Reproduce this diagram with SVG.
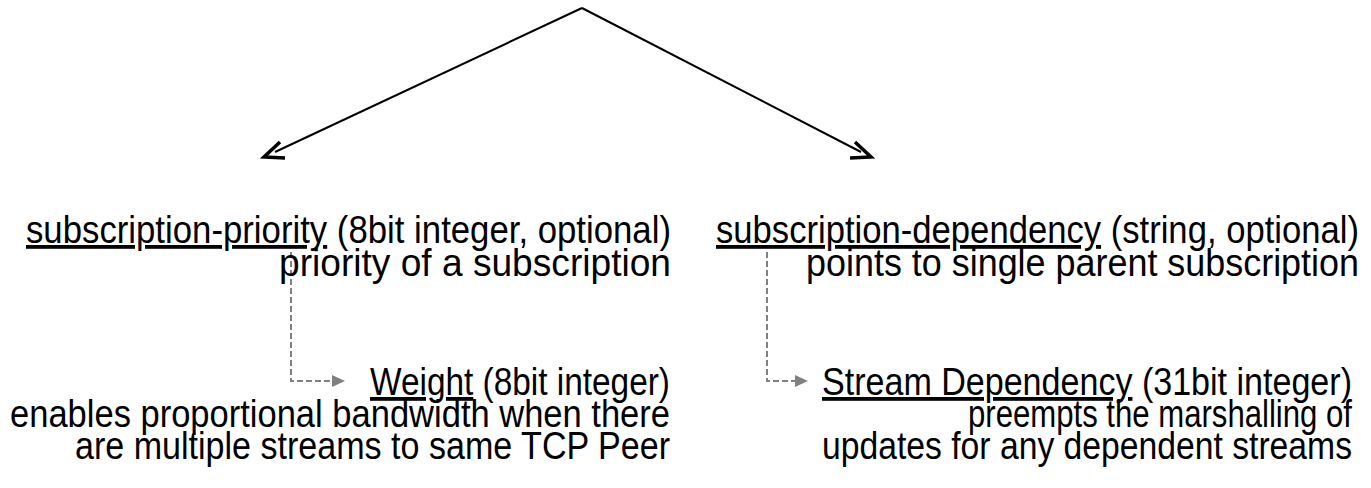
<svg xmlns="http://www.w3.org/2000/svg" width="1371" height="488" viewBox="0 0 1371 488">
<defs>
<style>
text{font-family:"Liberation Sans Narrow","Liberation Sans",Arial,sans-serif;font-size:38px;fill:#000;text-anchor:end}
.u{text-decoration:underline}
.main{fill:none;stroke:#000;stroke-width:2}
.head{fill:none;stroke:#000;stroke-width:3.5;stroke-linecap:butt;stroke-linejoin:miter}
.dash{fill:none;stroke:#808080;stroke-width:2;stroke-dasharray:6 3}
</style>
<marker id="tri" viewBox="0 0 13 12" refX="0" refY="6" markerWidth="13" markerHeight="12" markerUnits="userSpaceOnUse" orient="auto">
<path d="M0,0 L13,6 L0,12 z" fill="#808080"/>
</marker>
</defs>
<g id="connectors">
<path class="main" d="M582,8 L275,152"/>
<path class="head" d="M280,142 L264,157 L285,158"/>
<path class="main" d="M582,8 L861,152"/>
<path class="head" d="M855,142 L871,157 L850,158"/>
<path class="dash" d="M291,252 L291,381 L332,381" marker-end="url(#tri)"/>
<path class="dash" d="M767,252 L767,381 L795,381" marker-end="url(#tri)"/>
</g>
<g id="node-subscription-priority">
<text x="671" y="243" textLength="645" lengthAdjust="spacingAndGlyphs"><tspan class="u">subscription-priority</tspan> (8bit integer, optional)</text>
<text x="671" y="276" textLength="392" lengthAdjust="spacingAndGlyphs">priority of a subscription</text>
</g>
<g id="node-subscription-dependency">
<text x="1359" y="243" textLength="643" lengthAdjust="spacingAndGlyphs"><tspan class="u">subscription-dependency</tspan> (string, optional)</text>
<text x="1359" y="276" textLength="553" lengthAdjust="spacingAndGlyphs">points to single parent subscription</text>
</g>
<g id="node-weight">
<text x="670" y="395" textLength="300" lengthAdjust="spacingAndGlyphs"><tspan class="u">Weight</tspan> (8bit integer)</text>
<text x="670" y="427" textLength="660" lengthAdjust="spacingAndGlyphs">enables proportional bandwidth when there</text>
<text x="670" y="459" textLength="595" lengthAdjust="spacingAndGlyphs">are multiple streams to same TCP Peer</text>
</g>
<g id="node-stream-dependency">
<text x="1352" y="395" textLength="530" lengthAdjust="spacingAndGlyphs"><tspan class="u">Stream Dependency</tspan> (31bit integer)</text>
<text x="1352" y="427" textLength="384" lengthAdjust="spacingAndGlyphs">preempts the marshalling of</text>
<text x="1352" y="459" textLength="530" lengthAdjust="spacingAndGlyphs">updates for any dependent streams</text>
</g>
</svg>
